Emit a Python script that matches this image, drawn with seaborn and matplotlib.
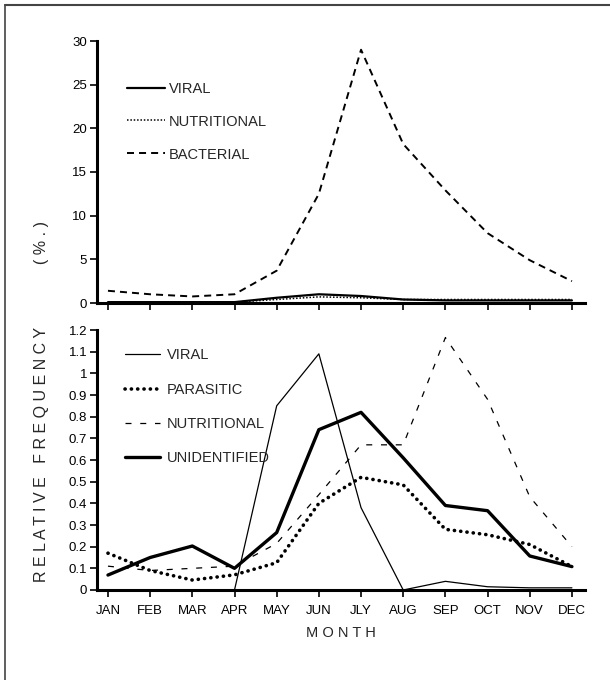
import numpy as np
import pandas as pd
import seaborn as sns
import matplotlib
matplotlib.use("Agg")
import matplotlib.pyplot as plt
from matplotlib.lines import Line2D

# ---------------- data ----------------
months = ["JAN", "FEB", "MAR", "APR", "MAY", "JUN", "JLY", "AUG", "SEP", "OCT", "NOV", "DEC"]

# upper panel (%)
top_viral = [0.1, 0.1, 0.1, 0.1, 0.6, 1.0, 0.8, 0.4, 0.3, 0.3, 0.3, 0.3]
top_nutritional = [0.05, 0.05, 0.05, 0.1, 0.4, 0.7, 0.6, 0.4, 0.4, 0.4, 0.4, 0.4]
top_bacterial = [1.4, 1.0, 0.75, 1.0, 3.7, 12.5, 29.0, 18.2, 12.9, 8.0, 4.9, 2.5]

# lower panel (%)
low_viral = [0.0, 0.0, 0.0, 0.0, 0.85, 1.09, 0.38, 0.0, 0.04, 0.015, 0.01, 0.01]
low_parasitic = [0.17, 0.09, 0.046, 0.07, 0.126, 0.40, 0.52, 0.485, 0.28, 0.255, 0.21, 0.108]
low_nutritional = [0.11, 0.09, 0.10, 0.11, 0.215, 0.44, 0.67, 0.67, 1.165, 0.88, 0.43, 0.20]
low_unidentified = [0.069, 0.15, 0.203, 0.10, 0.265, 0.74, 0.82, 0.61, 0.39, 0.366, 0.157, 0.108]

top_yticks = [0, 5, 10, 15, 20, 25, 30]
low_yticks = [0, 0.1, 0.2, 0.3, 0.4, 0.5, 0.6, 0.7, 0.8, 0.9, 1.0, 1.1, 1.2]
low_yticklabels = ["0", "0.1", "0.2", "0.3", "0.4", "0.5", "0.6", "0.7", "0.8", "0.9", "1", "1.1", "1.2"]

# ---------------- style ----------------
sns.set_theme(style="ticks")
plt.rcParams["font.family"] = ["Liberation Sans", "DejaVu Sans"]
plt.rcParams["axes.linewidth"] = 2.0

W, H = 610, 680
fig = plt.figure(figsize=(W / 100, H / 100), dpi=100)

def fx(px):
    return px / W

def fy(py):
    return 1 - py / H

ax_left, ax_right = 97, 585
ax_top = fig.add_axes([fx(ax_left), fy(303), fx(ax_right - ax_left), (303 - 41) / H])
ax_low = fig.add_axes([fx(ax_left), fy(590), fx(ax_right - ax_left), (590 - 330) / H])

x = np.arange(len(months))
xlim = (-0.26, 11.31)

# ---- upper panel ----
sns.lineplot(x=x, y=top_viral, ax=ax_top, color="black", linewidth=1.6, label="VIRAL")
sns.lineplot(x=x, y=top_nutritional, ax=ax_top, color="black", linewidth=1.1,
             linestyle=(0, (1, 1.2)), label="NUTRITIONAL")
sns.lineplot(x=x, y=top_bacterial, ax=ax_top, color="black", linewidth=1.4,
             linestyle=(0, (3.6, 2.6)), label="BACTERIAL")

ax_top.set_xlim(*xlim)
ax_top.set_ylim(0, 30)
ax_top.set_yticks(top_yticks)
ax_top.set_xticks(x)
ax_top.set_xticklabels([])
ax_top.legend(loc="upper left", bbox_to_anchor=(0.061, 0.845), frameon=False,
              borderaxespad=0, borderpad=0, handlelength=2.6, handletextpad=0.3,
              labelspacing=1.3, fontsize=10.5)

# ---- lower panel ----
sns.lineplot(x=x, y=low_viral, ax=ax_low, color="black", linewidth=0.9, label="VIRAL")
sns.lineplot(x=x, y=low_parasitic, ax=ax_low, color="black", linewidth=2.6,
             linestyle=(0, (0.05, 1.7)), dash_capstyle="round", label="PARASITIC")
sns.lineplot(x=x, y=low_nutritional, ax=ax_low, color="black", linewidth=0.9,
             linestyle=(0, (4.8, 7.0)), label="NUTRITIONAL")
sns.lineplot(x=x, y=low_unidentified, ax=ax_low, color="black", linewidth=2.4,
             label="UNIDENTIFIED")

ax_low.set_xlim(*xlim)
ax_low.set_ylim(0, 1.2)
ax_low.set_yticks(low_yticks)
ax_low.set_yticklabels(low_yticklabels)
ax_low.set_xticks(x)
ax_low.set_xticklabels(months)
ax_low.legend(loc="upper left", bbox_to_anchor=(0.057, 0.93), frameon=False,
              borderaxespad=0, borderpad=0, handlelength=2.4, handletextpad=0.5,
              labelspacing=1.4, fontsize=10.5)

for ax in (ax_top, ax_low):
    sns.despine(ax=ax)
    ax.tick_params(axis="both", direction="out", length=5, width=1.2,
                   labelsize=9.5, color="black", labelcolor="black", pad=2)
    ax.set_xlabel("")
    ax.set_ylabel("")
    for s in ("left", "bottom"):
        ax.spines[s].set_color("black")
        ax.spines[s].set_linewidth(2.2)

ax_low.tick_params(axis="x", pad=6)

# axis titles
fig.text(fx(341), fy(633), "M O N T H", ha="center", va="center", fontsize=10.5)
fig.text(fx(42), fy(401), "R E L A T I V E   F R E Q U E N C Y              ( % . )",
         rotation=90, ha="center", va="center", fontsize=11.5)

# figure frame (top and left edges)
fig.add_artist(Line2D([fx(5), 1], [fy(5), fy(5)], transform=fig.transFigure,
                      color="#444444", linewidth=1.5))
fig.add_artist(Line2D([fx(5), fx(5)], [0, fy(5)], transform=fig.transFigure,
                      color="#444444", linewidth=1.2))

fig.savefig("out.png", dpi=100, facecolor="white")
